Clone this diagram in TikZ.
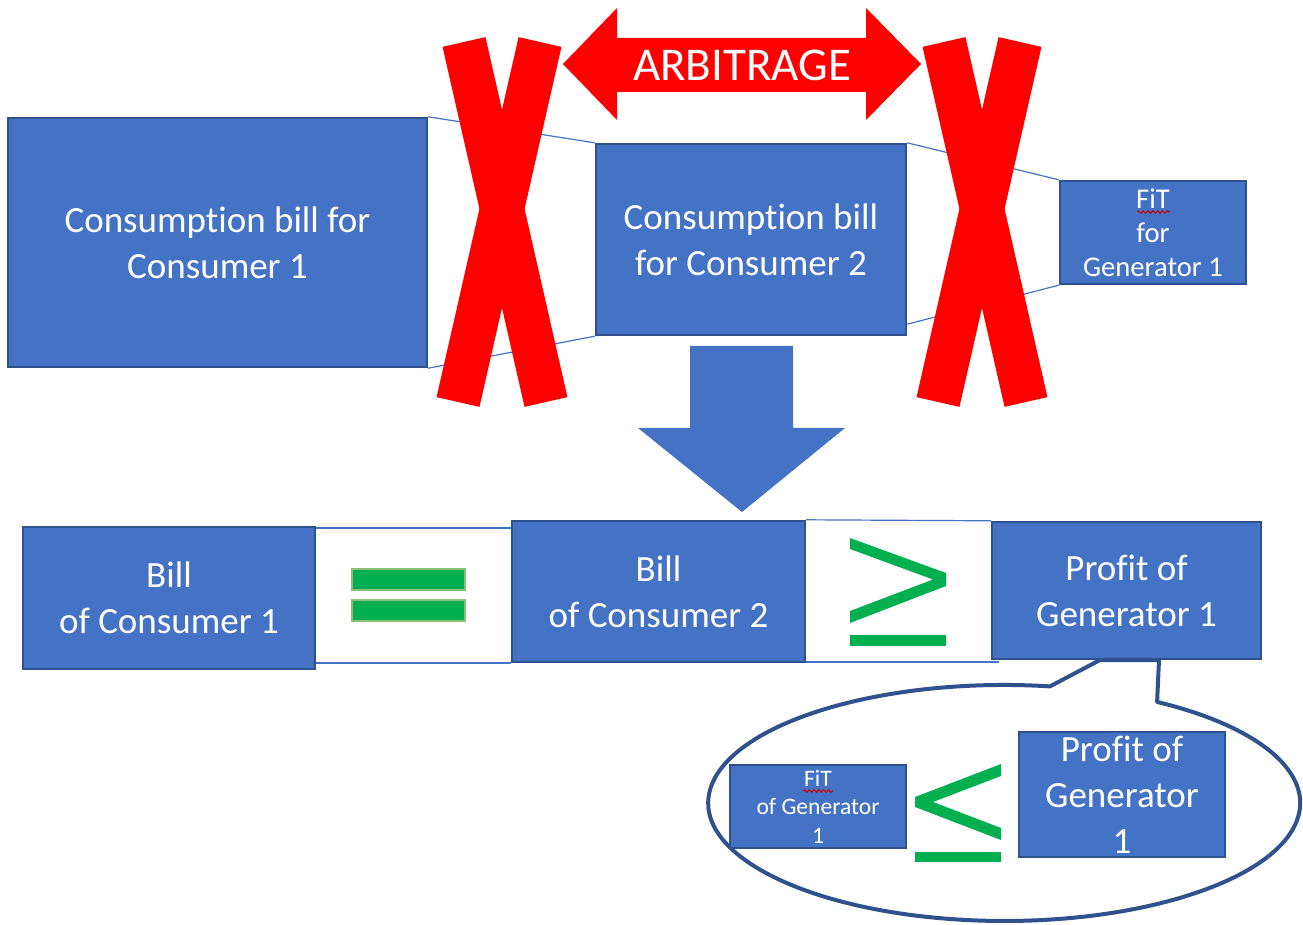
\documentclass[tikz,border=0pt]{standalone}
\usepackage{fontspec}
\setmainfont{Carlito}[Ligatures=NoCommon]
\usetikzlibrary{calc,decorations.pathmorphing}
\definecolor{boxblue}{HTML}{4472C4}
\definecolor{edgeblue}{HTML}{2F528F}
\definecolor{xred}{HTML}{FF0000}
\definecolor{eqgreen}{HTML}{00B050}
\definecolor{eqedge}{HTML}{8CC07A}
\begin{document}
\begin{tikzpicture}[x=0.5pt,y=-0.5pt,
  box/.style={draw=edgeblue, line width=1.2pt, fill=boxblue, text=white,
    align=center, inner sep=0pt},
  big/.style={font=\fontsize{18.5}{23}\selectfont},
  mid/.style={font=\fontsize{14.3}{17}\selectfont},
  small/.style={font=\fontsize{11.8}{14.2}\selectfont},
  thinline/.style={draw=boxblue, line width=0.6pt},
  cross/.style={draw=xred, line width=22pt},
  greensign/.style={fill=eqgreen},
  spell/.style={draw=red!80!black, line width=0.5pt,
    decorate, decoration={snake, amplitude=0.6pt, segment length=2.4pt}},
]
\useasboundingbox (0,0) rectangle (1303,925);

% ---- top row: consumption bills and feed-in tariff
\node[box,big,minimum width=209.5pt,minimum height=124.5pt] (C1) at (217.5,242.5)
  {Consumption bill for\\Consumer 1};
\node[box,big,minimum width=155pt,minimum height=95.5pt] (C2) at (751,239.5)
  {Consumption bill\\for Consumer 2};
\node[box,mid,minimum width=93pt,minimum height=51.5pt] (F1) at (1153,232.5)
  {FiT\\for\\Generator 1};

\draw[thinline] (C1.north east) -- (C2.north west);
\draw[thinline] (C1.south east) -- (C2.south west);
\draw[thinline] (C2.north east) -- (F1.north west);
\draw[thinline] ($(C2.south east)+(0,-12)$) -- (F1.south west);

% ---- crossed-out links
\draw[cross] (464,42) -- (546,402);
\draw[cross] (540,42) -- (458,402);
\draw[cross] (944,42) -- (1026,402);
\draw[cross] (1020,42) -- (938,402);

% ---- arbitrage double arrow
\fill[xred] (563,64) -- (617,8) -- (617,38) -- (866,38) -- (866,8) -- (921,64)
  -- (866,120) -- (866,92) -- (617,92) -- (617,120) -- cycle;
\node[text=white, font=\fontsize{23.5}{28}\selectfont, inner sep=0pt] (arb) at (742,65) {ARBITRAGE};

% ---- down arrow
\fill[boxblue] (690,346) -- (793,346) -- (793,428) -- (845,428) -- (742,512)
  -- (638,428) -- (690,428) -- cycle;

% ---- bottom row
\node[box,big,minimum width=146pt,minimum height=71pt] (B1) at (169,598)
  {Bill\\of Consumer 1};
\node[box,big,minimum width=146.5pt,minimum height=70.5pt] (B2) at (658.5,591.5)
  {Bill\\of Consumer 2};
\node[box,big,minimum width=134.5pt,minimum height=68.5pt] (P1) at (1126.5,590.5)
  {Profit of\\Generator 1};

\draw[thinline] (B1.east |- 0,528) -- (B2.west |- 0,528);
\draw[thinline] (B1.east |- 0,663) -- (B2.west |- 0,663);
\draw[thinline] (B2.north east) -- (P1.north west);
\draw[thinline] (B2.east |- 0,662) -- ($(P1.west |- 0,662)+(8,0)$);

% equals sign
\draw[eqedge, line width=0.6pt, greensign] (352,569) rectangle (465,590);
\draw[eqedge, line width=0.6pt, greensign] (352,600) rectangle (465,621);

% greater-or-equal sign
\fill[eqgreen] (850,538) -- (946,573) -- (946,586) -- (850,623) -- (850,611)
  -- (933,579.5) -- (850,549) -- cycle;
\fill[eqgreen] (850,635) rectangle (946,646);

% ---- callout detailing the generator profit
\draw[edgeblue, line width=2pt, line join=round]
  (1050,686.4) arc[start angle=81.1, end angle=418.9, x radius=148pt, y radius=59pt]
  -- (1159,660) -- (1100,660) -- cycle;

\node[box,small,minimum width=88pt,minimum height=41.5pt] (F2) at (818,806.5)
  {FiT\\of Generator\\1};
\node[box,big,minimum width=103pt,minimum height=62.5pt] (P2) at (1122,794.5)
  {Profit of\\Generator\\1};

% less-or-equal sign
\fill[eqgreen] (1001,764) -- (915,797) -- (915,807) -- (1001,840) -- (1001,828)
  -- (933,802) -- (1001,776) -- cycle;
\fill[eqgreen] (915,852) rectangle (1001,862);

% spell-check marks under the abbreviation
\draw[spell] (1137,212) -- (1170,212);
\draw[spell] (803,791) -- (833,791);
\end{tikzpicture}
\end{document}
